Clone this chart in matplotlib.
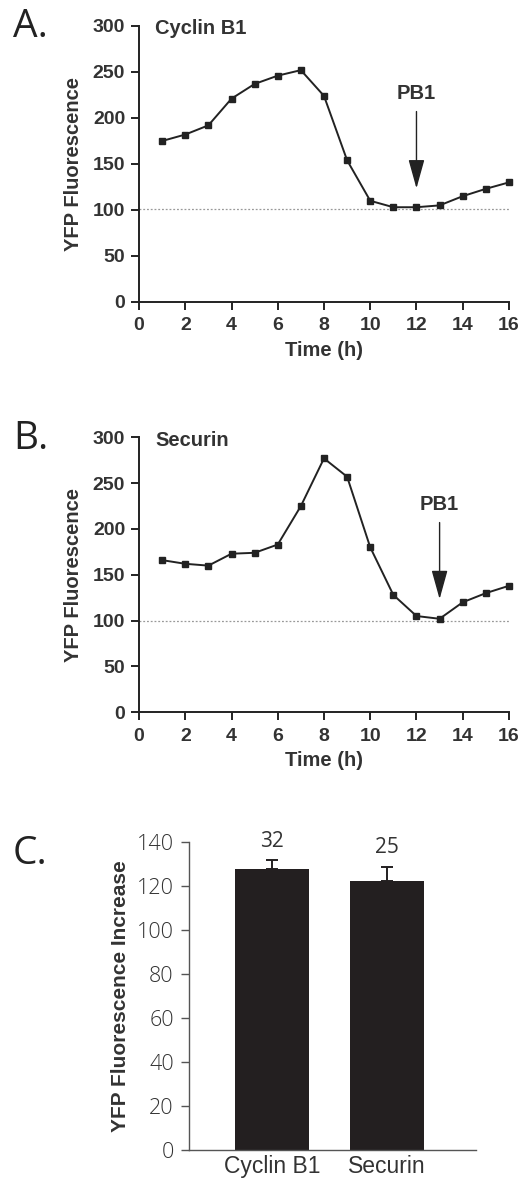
import matplotlib
matplotlib.use("Agg")
import matplotlib.pyplot as plt

# data
hours = list(range(1, 17))
cyclin_b1 = [175, 182, 192, 221, 237, 246, 252, 224, 154, 110, 103, 103, 105, 115, 123, 130]
securin = [166, 162, 160, 173, 174, 183, 225, 277, 257, 180, 128, 105, 102, 120, 130, 138]
baseline_a = 101
baseline_b = 100
pb1_a = 12
pb1_b = 13

bar_names = ["Cyclin B1", "Securin"]
bar_means = [127.6, 122.1]
bar_err = [4.2, 6.7]
bar_n = ["32", "25"]

ink = "#222222"
txt = "#333333"

plt.rcParams['font.family'] = ['Liberation Sans', 'DejaVu Sans']

fig = plt.figure(figsize=(5.3, 11.81), dpi=100)


def time_panel(rect, values, baseline, pb1, title):
    ax = fig.add_axes(rect)
    ax.plot(hours, values, color=ink, lw=1.4, marker='s', ms=4, clip_on=False, zorder=3)
    ax.axhline(baseline, color="#999999", lw=0.9, ls=(0, (1.5, 1.5)), zorder=1)
    ax.set_xlim(0, 16)
    ax.set_ylim(0, 300)
    ax.set_xticks(range(0, 17, 2))
    ax.set_yticks(range(0, 301, 50))
    for s in ['top', 'right']:
        ax.spines[s].set_visible(False)
    for s in ['left', 'bottom']:
        ax.spines[s].set_color(ink)
        ax.spines[s].set_linewidth(1.4)
    ax.tick_params(direction='out', length=6, width=1.4, color=ink,
                   labelsize=14, labelcolor=txt)
    ax.tick_params(axis='x', pad=5)
    ax.tick_params(axis='y', pad=4)
    for lab in ax.get_xticklabels() + ax.get_yticklabels():
        lab.set_fontweight('bold')
    ax.set_xlabel("Time (h)", fontsize=14.5, fontweight='bold', color=txt, labelpad=5)
    ax.set_ylabel("YFP Fluorescence", fontsize=14.5, fontweight='bold', color=txt, labelpad=7)
    ax.text(0.7, 297, title, fontsize=14.5, fontweight='bold', color=txt, va='center')
    ax.text(pb1, 227, "PB1", fontsize=14.5, fontweight='bold', color=txt, ha='center', va='center')
    ax.annotate("", xy=(pb1, 123.5), xytext=(pb1, 207),
                arrowprops=dict(arrowstyle='-|>,head_length=1.8,head_width=0.5',
                                color=ink, lw=1.0, shrinkA=0, shrinkB=0))
    return ax


time_panel([0.2623, 0.7443, 0.698, 0.2337], cyclin_b1, baseline_a, pb1_a, "Cyclin B1")
time_panel([0.2623, 0.3969, 0.698, 0.2328], securin, baseline_b, pb1_b, "Securin")

# panel C: bars
axc = fig.add_axes([0.3566, 0.0263, 0.5415, 0.2608])
xpos = [0, 1]
axc.bar(xpos, bar_means, width=0.64, color="#231f20", zorder=2)
axc.errorbar(xpos, bar_means, yerr=[[0, 0], bar_err], fmt='none', ecolor="#231f20",
             elinewidth=1.4, capsize=4, capthick=1.4, zorder=1)
for x, m, e, n in zip(xpos, bar_means, bar_err, bar_n):
    axc.annotate(n, (x, m + e), xytext=(0, 6), textcoords='offset points',
                 ha='center', va='bottom', fontsize=15, color=txt,
                 family=['Open Sans', 'DejaVu Sans'])
axc.set_xlim(-0.72, 1.77)
axc.set_ylim(0, 140)
axc.set_yticks(range(0, 141, 20))
axc.set_xticks(xpos)
axc.set_xticklabels(bar_names, fontsize=16.5, color=txt)
for s in ['top', 'right']:
    axc.spines[s].set_visible(False)
for s in ['left', 'bottom']:
    axc.spines[s].set_color("#555555")
    axc.spines[s].set_linewidth(1.0)
axc.tick_params(axis='y', direction='out', length=6, width=1.0, color="#555555",
                labelsize=15.5, labelcolor=txt, pad=5)
axc.tick_params(axis='x', length=0, pad=4)
for lab in axc.get_yticklabels():
    lab.set_family(['Open Sans', 'DejaVu Sans'])
    lab.set_fontweight('light')
axc.set_ylabel("YFP Fluorescence Increase", fontsize=15, fontweight='bold', color=txt, labelpad=5)

# panel letters
for letter, ytop in [("A.", 8), ("B.", 420), ("C.", 835)]:
    fig.text(13 / 530, 1 - ytop / 1181, letter, fontsize=28, color=ink,
             family=['Open Sans', 'DejaVu Sans'], va='top', ha='left')

fig.savefig("out.png", dpi=100, facecolor='white')
